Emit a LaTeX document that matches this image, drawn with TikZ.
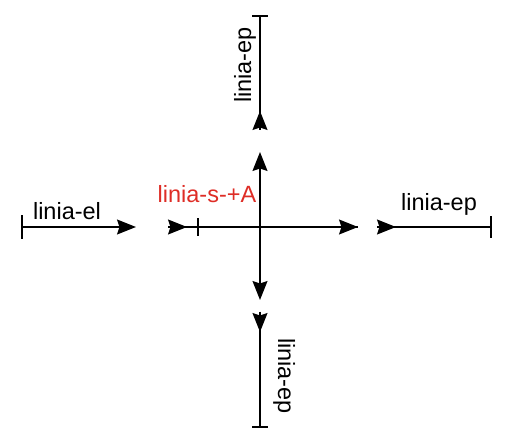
\documentclass[tikz,border=0pt]{standalone}
\usepackage{fontspec}
\setmainfont{Liberation Sans}
\usetikzlibrary{arrows.meta}
\definecolor{lblred}{RGB}{222,45,38}
\begin{document}
\begin{tikzpicture}[x=1pt,y=-1pt,
  ln/.style={line width=1.4pt,black},
  tip/.style={-{Stealth[length=19pt,width=15pt,inset=2.5pt]}},
  lbl/.style={font=\fontsize{23.5}{27}\selectfont,inner sep=0pt,anchor=base},
  bar/.style={line width=1.4pt}]
\useasboundingbox (0,0) rectangle (506,438);
% coordinates
\coordinate (c) at (260,227);
\coordinate (elS) at (22,227);
\coordinate (elE) at (136,227);
\coordinate (sS) at (168,227);
\coordinate (sH) at (187,227);
\coordinate (sBar) at (198,227);
\coordinate (sE) at (358,227);
\coordinate (up) at (260,152);
\coordinate (dn) at (260,300);
\coordinate (rS) at (377,227);
\coordinate (rH) at (396,227);
\coordinate (rE) at (491,227);
\coordinate (tS) at (260,16);
\coordinate (tT) at (260,130);
\coordinate (tH) at (260,111);
\coordinate (bS) at (260,312);
\coordinate (bH) at (260,332);
\coordinate (bE) at (260,427);
% linia-el
\draw[ln,tip] (elS) -- (elE);
\draw[bar] ([yshift=-12pt]elS) -- ([yshift=12pt]elS);
\node[lbl] (lel) at (67,220) {linia-el};
% horizontal cross line
\draw[ln] (sS) -- (sE);
\draw[ln,tip] (sS) -- (sH);
\draw[ln,tip] (c) -- (sE);
\draw[bar] ([yshift=-9pt]sBar) -- ([yshift=9pt]sBar);
\node[lbl,text=lblred] (lsa) at (207,203) {linia-s-+A};
% vertical cross arrows
\draw[ln,tip] (c) -- (up);
\draw[ln,tip] (c) -- (dn);
% right linia-ep
\draw[ln] (rS) -- (rE);
\draw[ln,tip] (rS) -- (rH);
\draw[bar] ([yshift=-11pt]rE) -- ([yshift=11pt]rE);
\node[lbl] (lepr) at (439,211) {linia-ep};
% top linia-ep
\draw[ln] (tS) -- (tT);
\draw[ln,tip] (tT) -- (tH);
\draw[bar] ([xshift=-8pt]tS) -- ([xshift=8pt]tS);
\node[lbl,rotate=90] (lept) at (251,65) {linia-ep};
% bottom linia-ep
\draw[ln] (bS) -- (bE);
\draw[ln,tip] (bS) -- (bH);
\draw[bar] ([xshift=-8pt]bE) -- ([xshift=8pt]bE);
\node[lbl,rotate=-90] (lepb) at (278,376) {linia-ep};
\end{tikzpicture}
\end{document}
